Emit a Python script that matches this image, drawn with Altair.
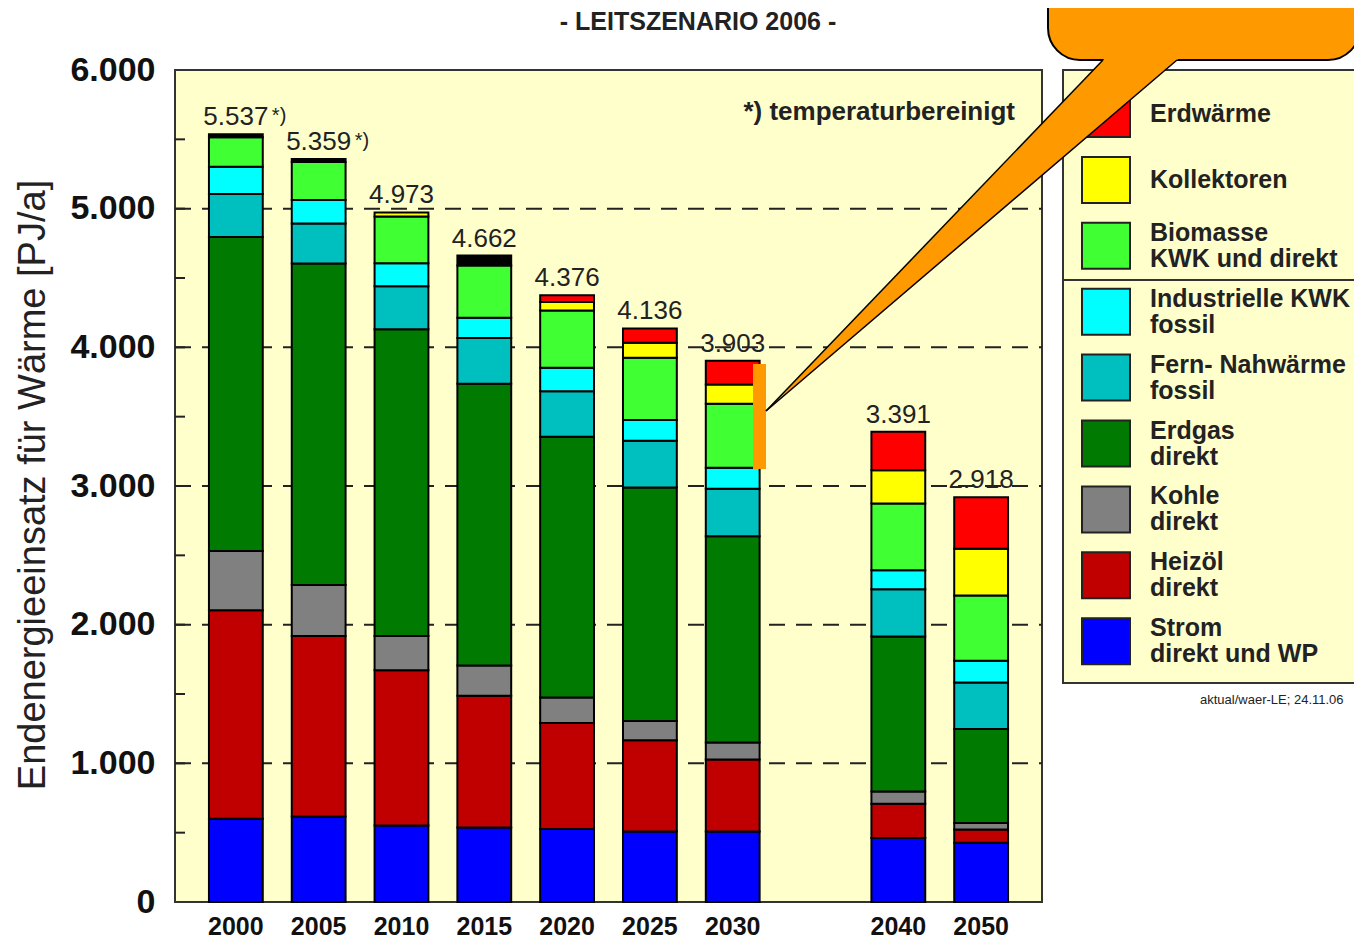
import altair as alt
import pandas as pd

# ---------------- data ----------------
years = ["2000", "2005", "2010", "2015", "2020", "2025", "2030", "2040", "2050"]
x_domain = ["2000", "2005", "2010", "2015", "2020", "2025", "2030", " ", "2040", "2050"]

series_names = ["Strom", "Heizöl", "Kohle", "Erdgas", "Fern- Nahwärme",
                "Industrielle KWK", "Biomasse", "Kollektoren", "Erdwärme", "Sonstige"]
series_colors = ["#0000FF", "#C00000", "#808080", "#007A00", "#00BFBF",
                 "#00FFFF", "#40FF33", "#FFFF00", "#FF0000", "#000000"]

strom = [600, 617, 552, 537, 526, 509, 509, 461, 427]
heizoel = [1504, 1302, 1119, 951, 764, 658, 518, 247, 96]
kohle = [427, 367, 248, 217, 184, 139, 123, 89, 46]
erdgas = [2264, 2318, 2211, 2033, 1881, 1683, 1487, 1117, 678]
fern = [310, 289, 310, 329, 329, 338, 344, 341, 336]
ind_kwk = [198, 170, 167, 146, 168, 149, 151, 137, 156]
biomasse = [212, 274, 337, 377, 413, 449, 461, 482, 471]
kollektoren = [0, 0, 29, 0, 62, 108, 139, 240, 338]
erdwaerme = [0, 0, 0, 0, 49, 103, 171, 277, 370]
sonstige = [22, 22, 0, 72, 0, 0, 0, 0, 0]

totals = [5537, 5359, 4973, 4662, 4376, 4136, 3903, 3391, 2918]
total_labels = ["5.537", "5.359", "4.973", "4.662", "4.376", "4.136", "3.903", "3.391", "2.918"]
star_marks = ["*)", "*)", "", "", "", "", "", "", ""]

legend_keys = ["Erdwärme", "Kollektoren", "Biomasse", "Industrielle KWK", "Fern- Nahwärme",
               "Erdgas", "Kohle", "Heizöl", "Strom"]
legend_labels = ["Erdwärme", "Kollektoren", "Biomasse\nKWK und direkt",
                 "Industrielle KWK\nfossil", "Fern- Nahwärme\nfossil", "Erdgas\ndirekt",
                 "Kohle\ndirekt", "Heizöl\ndirekt", "Strom\ndirekt und WP"]

y_tick_values = [0, 1000, 2000, 3000, 4000, 5000, 6000]
grid_values = [1000, 2000, 3000, 4000, 5000]
minor_ticks = [500, 1000, 1500, 2000, 2500, 3000, 3500, 4000, 4500, 5000, 5500]

title_text = "- LEITSZENARIO 2006 -"
y_title = "Endenergieeinsatz für Wärme [PJ/a]"
note_text = "*) temperaturbereinigt"
source_text = "aktual/waer-LE; 24.11.06"

# ---------------- tables ----------------
series_values = [strom, heizoel, kohle, erdgas, fern, ind_kwk, biomasse,
                 kollektoren, erdwaerme, sonstige]
rows = []
for k, (name, vals) in enumerate(zip(series_names, series_values)):
    for yr, v in zip(years, vals):
        rows.append({"year": yr, "series": name, "value": v, "order": k})
df = pd.DataFrame(rows)
tot_df = pd.DataFrame({"year": years, "total": totals, "label": total_labels, "star": star_marks})
leg_df = pd.DataFrame({"series": legend_keys, "label": legend_labels, "i": list(range(len(legend_keys)))})
grid_df = pd.DataFrame({"g": grid_values})
tick_df = pd.DataFrame({"t": minor_ticks})
one = pd.DataFrame({"k": [0]})

FONT = "Liberation Sans"
W, H = 867, 832
ORANGE = "#FF9900"

color_scale = alt.Scale(domain=series_names, range=series_colors)
x_scale = alt.Scale(domain=x_domain, paddingInner=0.35, paddingOuter=0.41)
y_scale = alt.Scale(domain=[0, 6000], nice=False, zero=True)

y_axis = alt.Axis(title=None, values=y_tick_values, labelFontSize=34,
                  labelFontWeight="bold", labelFont=FONT, labelColor="#111111",
                  labelExpr="replace(format(datum.value, ','), ',', '.')",
                  ticks=False, domain=False, grid=False, labelPadding=20)
x_axis = alt.Axis(title=None, labelFontSize=25, labelFontWeight="bold", labelFont=FONT,
                  labelAngle=0, ticks=False, domain=False, labelPadding=12,
                  labelColor="#111111")

grid = alt.Chart(grid_df).mark_rule(color="#222222", strokeWidth=2, strokeDash=[16, 11]).encode(
    y=alt.Y("g:Q", scale=y_scale, axis=y_axis),
    x=alt.value(0), x2=alt.value(W))

bars = alt.Chart(df).transform_filter("datum.value > 0").mark_bar(
    stroke="#000000", strokeWidth=2).encode(
    x=alt.X("year:N", scale=x_scale, sort=x_domain, axis=x_axis),
    y=alt.Y("value:Q", stack="zero", scale=y_scale, axis=y_axis),
    color=alt.Color("series:N", scale=color_scale, legend=None),
    order=alt.Order("order:Q"))

tot_text = alt.Chart(tot_df).mark_text(font=FONT, fontSize=26, color="#222222",
                                       baseline="alphabetic", dy=-9).encode(
    x=alt.X("year:N", scale=x_scale, sort=x_domain, axis=x_axis),
    y=alt.Y("total:Q", scale=y_scale, axis=y_axis),
    text="label:N")

star_text = alt.Chart(tot_df).transform_filter("datum.star != ''").mark_text(
    font=FONT, fontSize=20, color="#222222", baseline="alphabetic", align="left",
    dx=36, dy=-12).encode(
    x=alt.X("year:N", scale=x_scale, sort=x_domain, axis=x_axis),
    y=alt.Y("total:Q", scale=y_scale, axis=y_axis),
    text="star:N")

ticks = alt.Chart(tick_df).mark_rule(color="#222222", strokeWidth=2).encode(
    y=alt.Y("t:Q", scale=y_scale, axis=y_axis),
    x=alt.value(0), x2=alt.value(10))

orange_bar = alt.Chart(one).mark_rect(fill=ORANGE).encode(
    x=alt.value(578), x2=alt.value(591), y=alt.value(294), y2=alt.value(399))

note = alt.Chart(one).mark_text(text=note_text, font=FONT, fontSize=26, fontWeight="bold",
                                 align="right", baseline="middle", color="#222222").encode(
    x=alt.value(840), y=alt.value(42))

# legend
leg_box = alt.Chart(one).mark_rect(fill="#FFFFCC", stroke="#333333", strokeWidth=2).encode(
    x=alt.value(888), x2=alt.value(1230), y=alt.value(0), y2=alt.value(613))
leg_sep = alt.Chart(one).mark_rule(color="#333333", strokeWidth=2).encode(
    x=alt.value(888), x2=alt.value(1230), y=alt.value(210))
leg_sw = alt.Chart(leg_df).transform_calculate(
    y0="44 + 65.9 * datum.i - 23", y1="44 + 65.9 * datum.i + 23").mark_rect(
    stroke="#222222", strokeWidth=2).encode(
    x=alt.value(907), x2=alt.value(955),
    y=alt.Y("y0:Q", scale=None, axis=None), y2="y1:Q",
    color=alt.Color("series:N", scale=color_scale, legend=None))
leg_txt = alt.Chart(leg_df).transform_calculate(
    yc="44 + 65.9 * datum.i - (indexof(datum.label, '\\n') >= 0 ? 13 : 0)").mark_text(
    font=FONT, fontSize=25, fontWeight="bold", align="left", baseline="middle",
    lineBreak="\n", lineHeight=26, color="#222222").encode(
    x=alt.value(975), y=alt.Y("yc:Q", scale=None, axis=None), text="label:N")
source = alt.Chart(one).mark_text(text=source_text, font=FONT, fontSize=13, align="left",
                                   baseline="middle", color="#222222").encode(
    x=alt.value(1025), y=alt.value(630))

# callout
bubble = alt.Chart(one).mark_rect(fill=ORANGE, stroke="#000000", strokeWidth=2,
                                  cornerRadius=32).encode(
    x=alt.value(873), x2=alt.value(1185), y=alt.value(-110), y2=alt.value(-10))
wedge_df = pd.DataFrame({"px": [591, 934, 1009], "py": [341, -16, -16], "py2": [341, 48, -16]})
wedge = alt.Chart(wedge_df).mark_area(fill=ORANGE, interpolate="linear").encode(
    x=alt.X("px:Q", scale=None, axis=None),
    y=alt.Y("py:Q", scale=None, axis=None), y2="py2:Q")
edge1 = alt.Chart(one).mark_rule(color="#000000", strokeWidth=1.5).encode(
    x=alt.value(591), y=alt.value(341), x2=alt.value(928), y2=alt.value(-10))
edge2 = alt.Chart(one).mark_rule(color="#000000", strokeWidth=1.5).encode(
    x=alt.value(591), y=alt.value(341), x2=alt.value(1002), y2=alt.value(-10))

title = alt.Chart(one).mark_text(text=title_text, font=FONT, fontSize=25, fontWeight="bold",
                                  align="center", baseline="middle", color="#222222").encode(
    x=alt.value(523), y=alt.value(-48))
ytitle = alt.Chart(one).mark_text(text=y_title, font=FONT, fontSize=38, angle=270,
                                   align="center", baseline="middle", color="#222222").encode(
    x=alt.value(-141), y=alt.value(415))

chart = alt.layer(
    grid, bars, tot_text, star_text, ticks, orange_bar, note,
    leg_box, leg_sep, leg_sw, leg_txt, source,
    bubble, wedge, edge1, edge2, title, ytitle
).properties(
    width=W, height=H,
    autosize=alt.AutoSizeParams(type="none"),
    padding={"left": 167, "top": 62, "right": 312, "bottom": 38}
).configure_view(fill="#FFFFCC", stroke="#333333", strokeWidth=2)

chart.save("out.html", embed_options={"renderer": "svg", "actions": False})
